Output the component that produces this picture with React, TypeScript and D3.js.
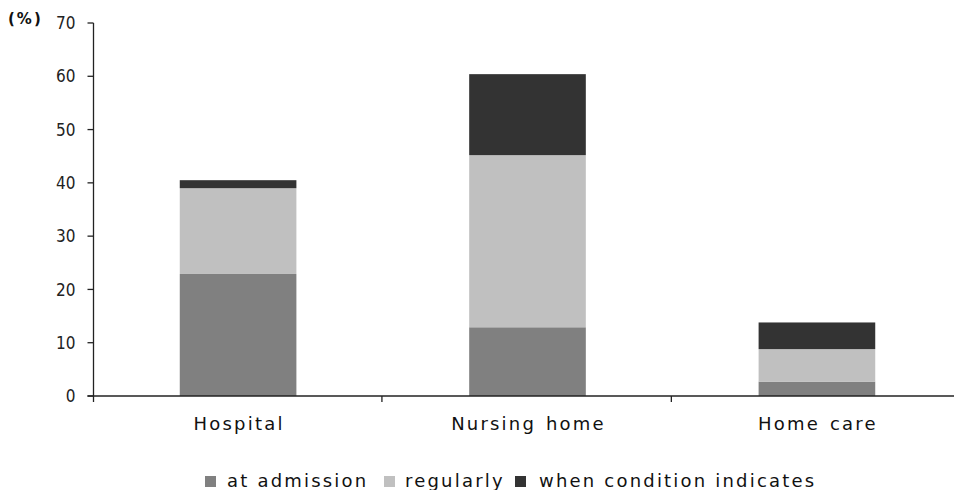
import React from "react";
import * as d3 from "d3";

const categories = ["Hospital", "Nursing home", "Home care"];
const seriesNames = ["at admission", "regularly", "when condition indicates"];
const atAdmission = [22.9, 12.9, 2.7];
const regularly = [16.1, 32.3, 6.1];
const whenCondition = [1.5, 15.2, 5.0];
const yTicks = [0, 10, 20, 30, 40, 50, 60, 70];
const colors = ["#808080", "#c0c0c0", "#333333"];

export default function App() {
  const W = 954, H = 490;
  const x = d3.scaleBand<string>().domain(categories).range([92.5, 962.5]).paddingInner(0.597).paddingOuter(0.3015);
  const y = d3.scaleLinear().domain([0, 70]).range([396, 23]);
  const rows = categories.map((c, i) => ({ cat: c, a: atAdmission[i], r: regularly[i], w: whenCondition[i] }));
  const stack = d3.stack<any>().keys(["a", "r", "w"])(rows);
  const x0 = 93.5;
  const step = x.step();
  const xStart = x.range()[0];
  const boundaries = [0, 1, 2, 3].map((i) => xStart + i * step);
  const legendItems = [
    { sq: 205, tx: 227 },
    { sq: 384, tx: 405 },
    { sq: 515, tx: 539 },
  ];
  const textFont = "'DejaVu Sans', Verdana, sans-serif";
  return (
    <div style={{ position: "fixed", left: 0, top: 0 }}>
      <svg width={W} height={H} style={{ display: "block", background: "#fff" }}>
        {stack.map((layer, li) =>
          layer.map((d, i) => (
            <rect
              key={li + "-" + i}
              x={x(categories[i])}
              y={y(d[1])}
              width={x.bandwidth()}
              height={y(d[0]) - y(d[1])}
              fill={colors[li]}
            />
          ))
        )}
        {/* y axis */}
        <line x1={x0} x2={x0} y1={23} y2={396} stroke="#222" strokeWidth={1.3} />
        {yTicks.map((t) => (
          <g key={t}>
            <line x1={x0 - 6} x2={x0} y1={y(t)} y2={y(t)} stroke="#222" strokeWidth={1.3} />
            <text
              x={x0 - 18}
              y={y(t)}
              dy="0.36em"
              textAnchor="end"
              fontFamily="'Liberation Sans Narrow', 'DejaVu Sans Condensed', sans-serif"
              fontSize={17}
              fill="#222"
            >
              {t}
            </text>
          </g>
        ))}
        <text x={8} y={24} fontFamily={textFont} fontWeight="bold" fontSize={15} letterSpacing={2} fill="#111">
          (%)
        </text>
        {/* x axis */}
        <line x1={x0 - 6} x2={W} y1={396} y2={396} stroke="#222" strokeWidth={1.3} />
        {boundaries.map((b, i) => (
          <line key={i} x1={i === 0 ? x0 : b} x2={i === 0 ? x0 : b} y1={396} y2={402} stroke="#222" strokeWidth={1.3} />
        ))}
        {categories.map((c) => (
          <text
            key={c}
            x={(x(c) as number) + x.bandwidth() / 2 + 1}
            y={430}
            textAnchor="middle"
            fontFamily={textFont}
            fontSize={18}
            letterSpacing={2.2}
            wordSpacing={2}
            fill="#111"
          >
            {c}
          </text>
        ))}
        {seriesNames.map((s, i) => (
          <g key={s}>
            <rect x={legendItems[i].sq} y={476} width={11} height={11} fill={colors[i]} />
            <text
              x={legendItems[i].tx}
              y={487}
              fontFamily={textFont}
              fontSize={18}
              letterSpacing={2.2}
              fill="#111"
            >
              {s}
            </text>
          </g>
        ))}
      </svg>
    </div>
  );
}
